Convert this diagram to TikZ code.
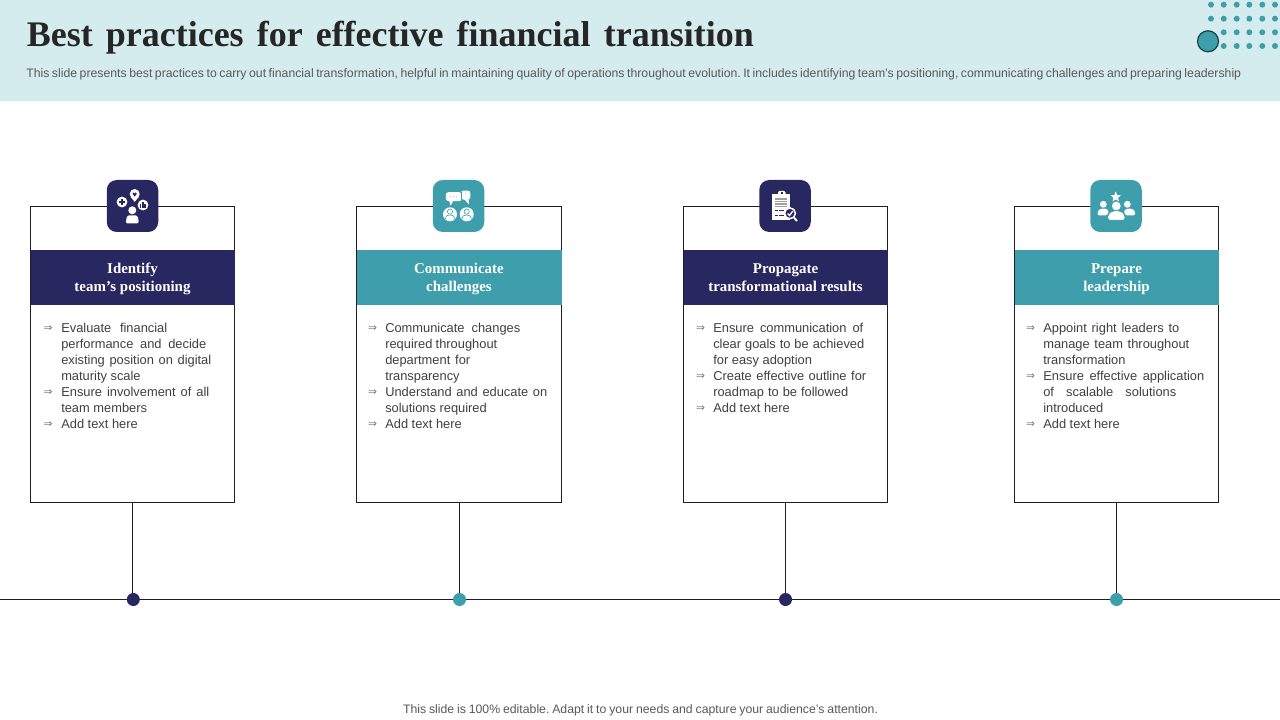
\documentclass[tikz,border=0pt]{standalone}
\usepackage{fontspec}
\setmainfont{Liberation Sans}
\newfontfamily\serifb[BoldFont={Liberation Serif Bold}]{Liberation Serif}
\newfontfamily\dejavu{DejaVu Sans}
\usetikzlibrary{shapes.geometric}
\definecolor{navy}{HTML}{29275F}
\definecolor{teal}{HTML}{3F9EAB}
\definecolor{bandbg}{HTML}{D5ECEF}
\definecolor{inkline}{HTML}{1E1E28}
\definecolor{bodytxt}{HTML}{404040}
\newlength{\pxu}\setlength{\pxu}{0.75pt}
\newcommand{\jl}[2]{\makebox[#1\pxu][s]{#2}}
\newcommand{\toprl}{\rule{0pt}{11.7pt}}
\tikzset{
  x=0.75pt,y=-0.75pt,
  card/.style={draw=inkline,line width=0.75pt,fill=white,minimum width=204\pxu,minimum height=296\pxu,inner sep=0pt},
  head/.style={minimum width=204\pxu,minimum height=55\pxu,inner sep=0pt,text=white,align=center,font=\fontsize{11.2}{13.5}\selectfont\serifb\bfseries},
  iconbg/.style={minimum width=51.5\pxu,minimum height=52\pxu,rounded corners=7.5pt,inner sep=0pt},
  bul/.style={anchor=north west,inner sep=0pt,align=left,text=bodytxt,font=\fontsize{9.65}{12}\selectfont},
  arrowb/.style={inner sep=0pt,text=black!55,font=\fontsize{8}{9}\selectfont\dejavu},
  dotm/.style={circle,minimum size=13\pxu,inner sep=0pt},
  cline/.style={draw=inkline,line width=0.75pt},
  patt/.style={fill=teal},
}
\begin{document}
\frenchspacing
\begin{tikzpicture}
\useasboundingbox (0,0) rectangle (1280,720);
\fill[white] (0,0) rectangle (1280,720);
\fill[bandbg] (0,0) rectangle (1280,101);
% corner pattern
\foreach \yy in {4.7,18.7,32.3,46}{\foreach \xx in {1223.7,1236.7,1249.3,1262.3,1275}{\fill[patt] (\xx,\yy) circle (3);}}
\fill[patt] (1211,4.7) circle (3);
\fill[patt] (1211,18.7) circle (3);
\filldraw[fill=teal,draw=black!60!teal,line width=0.9pt] (1208,41.3) circle (10.5);
% title
\node[anchor=base west,inner sep=0pt,text=black!85,font=\fontsize{27}{30}\selectfont\serifb\bfseries] (title) at (26.5,47) {\jl{727}{Best practices for effective financial transition}};
\node[anchor=base west,inner sep=0pt,text=black!65,font=\fontsize{9.2}{11}\selectfont] (sub) at (26,77.5) {\jl{1215}{This slide presents best practices to carry out financial transformation, helpful in maintaining quality of operations throughout evolution. It includes identifying team’s positioning, communicating challenges and preparing leadership}};
\node[anchor=base,inner sep=0pt,text=black!65,font=\fontsize{9.2}{11}\selectfont] (foot) at (640.5,713) {\jl{475}{This slide is 100\% editable. Adapt it to your needs and capture your audience’s attention.}};
% timeline
\coordinate (tl) at (0,599.5);
\coordinate (tr) at (1280,599.5);
\draw[cline] (tl) -- (tr);
% cards
\node[card] (c1) at (132.5,354.5) {};
\node[card,minimum width=205\pxu] (c2) at (459,354.5) {};
\node[card] (c3) at (785.5,354.5) {};
\node[card] (c4) at (1116.5,354.5) {};
\node[dotm,fill=navy] (d1) at (133.3,599.5) {};
\node[dotm,fill=teal] (d2) at (459.5,599.5) {};
\node[dotm,fill=navy] (d3) at (785.5,599.5) {};
\node[dotm,fill=teal] (d4) at (1116.5,599.5) {};
\draw[cline] (c1.south) -- (c1.south |- d1.north);
\draw[cline] (c2.south) -- (c2.south |- d2.north);
\draw[cline] (c3.south) -- (c3.south |- d3.north);
\draw[cline] (c4.south) -- (c4.south |- d4.north);
% headers
\node[head,fill=navy] (h1) at (132.5,277.5) {\toprl Identify\\\strut team’s positioning};
\node[head,fill=teal,minimum width=205\pxu] (h2) at (459,277.5) {\toprl Communicate\\\strut challenges};
\node[head,fill=navy] (h3) at (785.5,277.5) {\toprl Propagate\\\strut transformational results};
\node[head,fill=teal] (h4) at (1116.5,277.5) {\toprl Prepare\\\strut leadership};
% icon backgrounds
\node[iconbg,fill=navy] (i1) at (132.5,206) {};
\node[iconbg,fill=teal] (i2) at (458.5,206) {};
\node[iconbg,fill=navy] (i3) at (785,206) {};
\node[iconbg,fill=teal] (i4) at (1116,206) {};
% icon 1
\fill[white] (132.3,210.3) circle (4);
\fill[white,rounded corners=1.2pt] (125.7,223.4) -- (125.7,223.4) -- (127,215.5) -- (137.6,215.5) -- (139,223.4) -- cycle;
\fill[white] (122,202) circle (5.4);
\draw[navy,line width=1.1pt] (119,202) -- (125,202) (122,199) -- (122,205);
\fill[white] (134.7,194) circle (5);
\fill[white] (130.7,197) -- (138.7,197) -- (134.7,201.8) -- cycle;
\fill[navy] (133.7,193.6) circle (1.1);
\fill[navy] (135.7,193.6) circle (1.1);
\fill[navy] (132.8,194) -- (136.6,194) -- (134.7,196.6) -- cycle;
\fill[white] (143,205) circle (5.4);
\fill[navy] (140,204.5) rectangle (141.3,208.3);
\fill[navy] (142,204.5) rectangle (146.2,208.3);
\fill[navy] (142.4,201.8) rectangle (143.8,205);
% icon 2
\fill[white,rounded corners=2pt] (445.8,192.2) rectangle (461.8,201.2);
\fill[white] (449,200) -- (454,200) -- (450.5,205.5) -- cycle;
\fill[white,rounded corners=2pt] (460.8,190.6) rectangle (470.4,199.6);
\fill[white] (464,199) -- (468.5,199) -- (469,204.5) -- cycle;
\draw[teal,line width=0.4pt] (460.8,192.2) -- (460.8,200.5);
\foreach \xx in {450,453.3,456.6}{\fill[teal!70] (\xx,196.7) circle (0.5);}
\fill[teal!70] (465.5,194) circle (0.5);
\foreach \xx in {450,466.7}{
  \fill[white] (\xx,214.3) circle (7);
  \draw[teal,line width=0.45pt] (\xx,211.6) circle (2.6);
  \draw[teal,line width=0.45pt] (\xx-4.6,219.2) .. controls (\xx-4.2,215.4) and (\xx-2.5,215) .. (\xx,215) .. controls (\xx+2.5,215) and (\xx+4.2,215.4) .. (\xx+4.6,219.2);
}
% icon 3
\fill[white] (772,194) rectangle (790,220);
\fill[white,rounded corners=1pt] (778,191) rectangle (785.5,196);
\fill[navy] (780.6,192.4) rectangle (783,193.6);
\foreach \yy in {198.5,201,203.5,206}{\fill[gray!75] (775,\yy) rectangle (787,\yy+1.2);}
\foreach \yy in {210.5,215}{\fill[navy] (775,\yy) rectangle (777.5,\yy+0.9);\fill[navy] (779,\yy) rectangle (784,\yy+0.7);}
\draw[white,line width=1.4pt] (793.5,217) -- (797,221);
\filldraw[fill=navy,draw=white,line width=1.1pt] (790,213.3) circle (5.4);
\draw[white,line width=1pt] (787.5,213.5) -- (789.5,215.5) -- (792.8,211);
% icon 4
\node[star,star points=5,star point ratio=2.3,fill=white,minimum size=11\pxu,inner sep=0pt] (s4) at (1115.7,197) {};
\fill[white] (1103.3,204.3) circle (3.4);
\fill[white] (1127.3,204.3) circle (3.4);
\fill[white,rounded corners=1pt] (1097.7,215.5) -- (1097.7,211) -- (1101,208.6) -- (1106,208.6) -- (1109,211) -- (1107,215.5) -- cycle;
\fill[white,rounded corners=1pt] (1135,215.5) -- (1135,211) -- (1131.7,208.6) -- (1126.7,208.6) -- (1123.7,211) -- (1125.7,215.5) -- cycle;
\fill[teal] (1116.3,206) circle (5.2);
\fill[white] (1116.3,206) circle (4.4);
\filldraw[fill=white,draw=teal,line width=0.6pt,rounded corners=1.5pt] (1107.8,220.2) -- (1107.8,214.5) -- (1112,210.8) -- (1120.6,210.8) -- (1124.9,214.5) -- (1124.9,220.2) -- cycle;
% bullets
\foreach \nm/\xx/\yy in {a1/48/327,a2/48/391,a3/48/423,b1/372.5/327,b2/372.5/391,b3/372.5/423,e1/700.5/327,e2/700.5/375,e3/700.5/407,f1/1030.5/327,f2/1030.5/375,f3/1030.5/423}{
  \node[arrowb] (\nm) at (\xx,\yy+1.5) {⇒};
}
\node[bul] (t1a) at (61,322.5) {\jl{106}{Evaluate financial}\\\jl{145}{performance and decide}\\\jl{150}{existing position on digital}\\maturity scale};
\node[bul] (t1b) at (61,386.5) {\jl{148}{Ensure involvement of all}\\team members};
\node[bul] (t1c) at (61,418.5) {Add text here};
\node[bul] (t2a) at (385,322.5) {\jl{135}{Communicate changes}\\\jl{112}{required throughout}\\\jl{85}{department for}\\transparency};
\node[bul] (t2b) at (385,386.5) {\jl{162}{Understand and educate on}\\solutions required};
\node[bul] (t2c) at (385,418.5) {Add text here};
\node[bul] (t3a) at (713,322.5) {\jl{150}{Ensure communication of}\\\jl{151}{clear goals to be achieved}\\for easy adoption};
\node[bul] (t3b) at (713,370.5) {\jl{153}{Create effective outline for}\\\jl{135}{roadmap to be followed}};
\node[bul] (t3c) at (713,402.5) {Add text here};
\node[bul] (t4a) at (1043,322.5) {\jl{136}{Appoint right leaders to}\\\jl{146}{manage team throughout}\\transformation};
\node[bul] (t4b) at (1043,370.5) {\jl{161}{Ensure effective application}\\\jl{133}{of scalable solutions}\\introduced};
\node[bul] (t4c) at (1043,418.5) {Add text here};
\end{tikzpicture}
\end{document}
